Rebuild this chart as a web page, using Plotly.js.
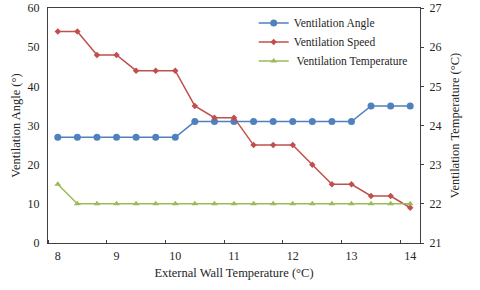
<!DOCTYPE html>
<html>
<head>
<meta charset="utf-8">
<script src="https://cdn.plot.ly/plotly-3.0.1.min.js"></script>
<style>html,body{margin:0;padding:0;background:#fff;}#chart{width:480px;height:290px;}</style>
</head>
<body>
<div id="chart"></div>
<script>
// External wall temperature (°C), one reading every 1/3 degree
const wallTemp = [8, 8.333, 8.667, 9, 9.333, 9.667, 10, 10.333, 10.667, 11, 11.333, 11.667, 12, 12.333, 12.667, 13, 13.333, 13.667, 14];
const ventAngle = [27, 27, 27, 27, 27, 27, 27, 31, 31, 31, 31, 31, 31, 31, 31, 31, 35, 35, 35];
const ventSpeed = [54, 54, 48, 48, 44, 44, 44, 35, 32, 32, 25, 25, 25, 20, 15, 15, 12, 12, 9];
const ventTemp = [22.5, 22, 22, 22, 22, 22, 22, 22, 22, 22, 22, 22, 22, 22, 22, 22, 22, 22, 22];
const xTickVals = [8, 9, 10, 11, 12, 13, 14];
const xTickText = ['8', '9', '10', '11', '12', '13', '14'];

const FONT = 'Liberation Serif, Times New Roman, serif';
const TXT = '#262626';
const traces = [
  {x: wallTemp, y: ventAngle, name: 'Ventilation Angle', type: 'scatter', mode: 'lines+markers',
   line: {color: '#4F81BD', width: 1.5}, marker: {symbol: 'circle', size: 7, color: '#4F81BD'}},
  {x: wallTemp, y: ventSpeed, name: 'Ventilation Speed', type: 'scatter', mode: 'lines+markers',
   line: {color: '#C0504D', width: 1.5}, marker: {symbol: 'diamond', size: 5, color: '#C0504D'}},
  {x: wallTemp, y: ventTemp, name: ' Ventilation Temperature', type: 'scatter', mode: 'lines+markers', yaxis: 'y2',
   line: {color: '#9BBB59', width: 1.5}, marker: {symbol: 'triangle-up', size: 6, color: '#9BBB59'}}
];
const layout = {
  width: 480, height: 290,
  margin: {l: 48, r: 60, t: 8, b: 47, pad: 0},
  paper_bgcolor: '#fff', plot_bgcolor: '#fff',
  font: {family: FONT, size: 12, color: TXT},
  showlegend: true,
  legend: {x: 0.553, y: 0.998, xanchor: 'left', yanchor: 'top', bgcolor: 'rgba(0,0,0,0)',
           font: {family: FONT, size: 11.5, color: TXT}, tracegroupgap: 0},
  xaxis: {
    range: [7.8333, 14.1667], tickmode: 'array', tickvals: xTickVals, ticktext: xTickText,
    ticks: '', showgrid: false, zeroline: false, showline: true, linecolor: '#404040', linewidth: 1, mirror: true,
    minor: {tickmode: 'linear', tick0: 7.8333, dtick: 1, ticks: 'inside', ticklen: 3, tickcolor: '#404040', showgrid: false},
    tickfont: {family: FONT, size: 12, color: TXT}, ticklabelstandoff: 2,
    title: {text: 'External Wall Temperature (°C)', font: {family: FONT, size: 12.5, color: TXT}, standoff: 5}
  },
  yaxis: {
    range: [0, 60], tickmode: 'linear', tick0: 0, dtick: 10, ticks: '', showgrid: false, zeroline: false,
    showline: true, linecolor: '#404040', linewidth: 1,
    tickfont: {family: FONT, size: 12, color: TXT}, ticklabelstandoff: 5,
    title: {text: 'Ventilation Angle (°)', font: {family: FONT, size: 12.5, color: TXT}, standoff: 4}
  },
  yaxis2: {
    overlaying: 'y', side: 'right', range: [21, 27], tickmode: 'linear', tick0: 21, dtick: 1,
    ticks: 'outside', ticklen: 3, tickcolor: '#404040', showgrid: false, zeroline: false,
    showline: true, linecolor: '#404040', linewidth: 1,
    tickfont: {family: FONT, size: 12, color: TXT}, ticklabelstandoff: 3,
    title: {text: 'Ventilation Temperature (°C)', font: {family: FONT, size: 12.5, color: TXT}, standoff: 9}
  }
};
Plotly.newPlot('chart', traces, layout, {displayModeBar: false, staticPlot: true});
</script>
</body>
</html>
